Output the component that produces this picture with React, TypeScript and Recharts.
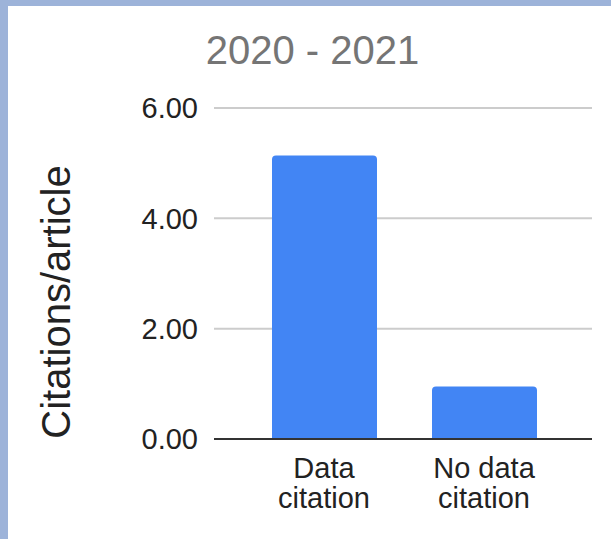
import { Bar, BarChart, CartesianGrid, XAxis, YAxis } from "recharts";

const categories = ["Data citation", "No data citation"];
const citationsPerArticle = [5.14, 0.95];
const yTicks = [0, 2, 4, 6];

const chartData = categories.map((name, i) => ({
  name,
  value: citationsPerArticle[i],
}));

const FONT = "'Liberation Sans', Arial, Helvetica, sans-serif";

function CategoryTick(props: any) {
  const { x, y, payload } = props;
  const label: string = payload.value;
  const cut = label.lastIndexOf(" ");
  const lines = [label.slice(0, cut), label.slice(cut + 1)];
  return (
    <text x={x} y={y} textAnchor="middle" fill="#222" fontSize={29} fontFamily={FONT}>
      {lines.map((line, i) => (
        <tspan key={i} x={x} dy={i === 0 ? 31 : 30}>
          {line}
        </tspan>
      ))}
    </text>
  );
}

function YTitle() {
  return (
    <text
      x={70}
      y={302}
      transform="rotate(-90, 70, 302)"
      textAnchor="middle"
      fill="#222"
      fontSize={40}
      fontFamily={FONT}
    >
      Citations/article
    </text>
  );
}

export default function App() {
  return (
    <div
      style={{
        position: "absolute",
        left: 0,
        top: 0,
        width: 611,
        height: 539,
        background: "#9db3d9",
        overflow: "hidden",
      }}
    >
      <div
        style={{
          position: "absolute",
          left: 8,
          top: 6,
          width: 603,
          height: 533,
          background: "#fff",
        }}
      />
      <div
        style={{
          position: "absolute",
          left: 0,
          top: 22,
          width: 625,
          textAlign: "center",
          fontFamily: FONT,
          fontSize: 40,
          color: "#757575",
          lineHeight: "56px",
        }}
      >
        2020 - 2021
      </div>
      <div style={{ position: "absolute", left: 0, top: 0 }}>
        <BarChart
          width={611}
          height={539}
          data={chartData}
          margin={{ top: 108, right: 19, bottom: 0, left: 0 }}
          barSize={105}
        >
          <CartesianGrid vertical={false} stroke="#cccccc" strokeWidth={2} />
          <XAxis
            dataKey="name"
            height={100}
            padding={{ left: 30, right: 28 }}
            axisLine={{ stroke: "#333", strokeWidth: 2 }}
            tickLine={false}
            tick={<CategoryTick />}
            interval={0}
          />
          <YAxis
            width={214}
            domain={[0, 6]}
            ticks={yTicks}
            axisLine={false}
            tickLine={false}
            tickMargin={10}
            tickFormatter={(v: number) => v.toFixed(2)}
            tick={{ fill: "#222", fontSize: 29, fontFamily: FONT }}
            label={{ content: () => <YTitle /> }}
          />
          <Bar
            dataKey="value"
            fill="#4285f4"
            radius={[4, 4, 0, 0]}
            isAnimationActive={false}
          />
        </BarChart>
      </div>
    </div>
  );
}
